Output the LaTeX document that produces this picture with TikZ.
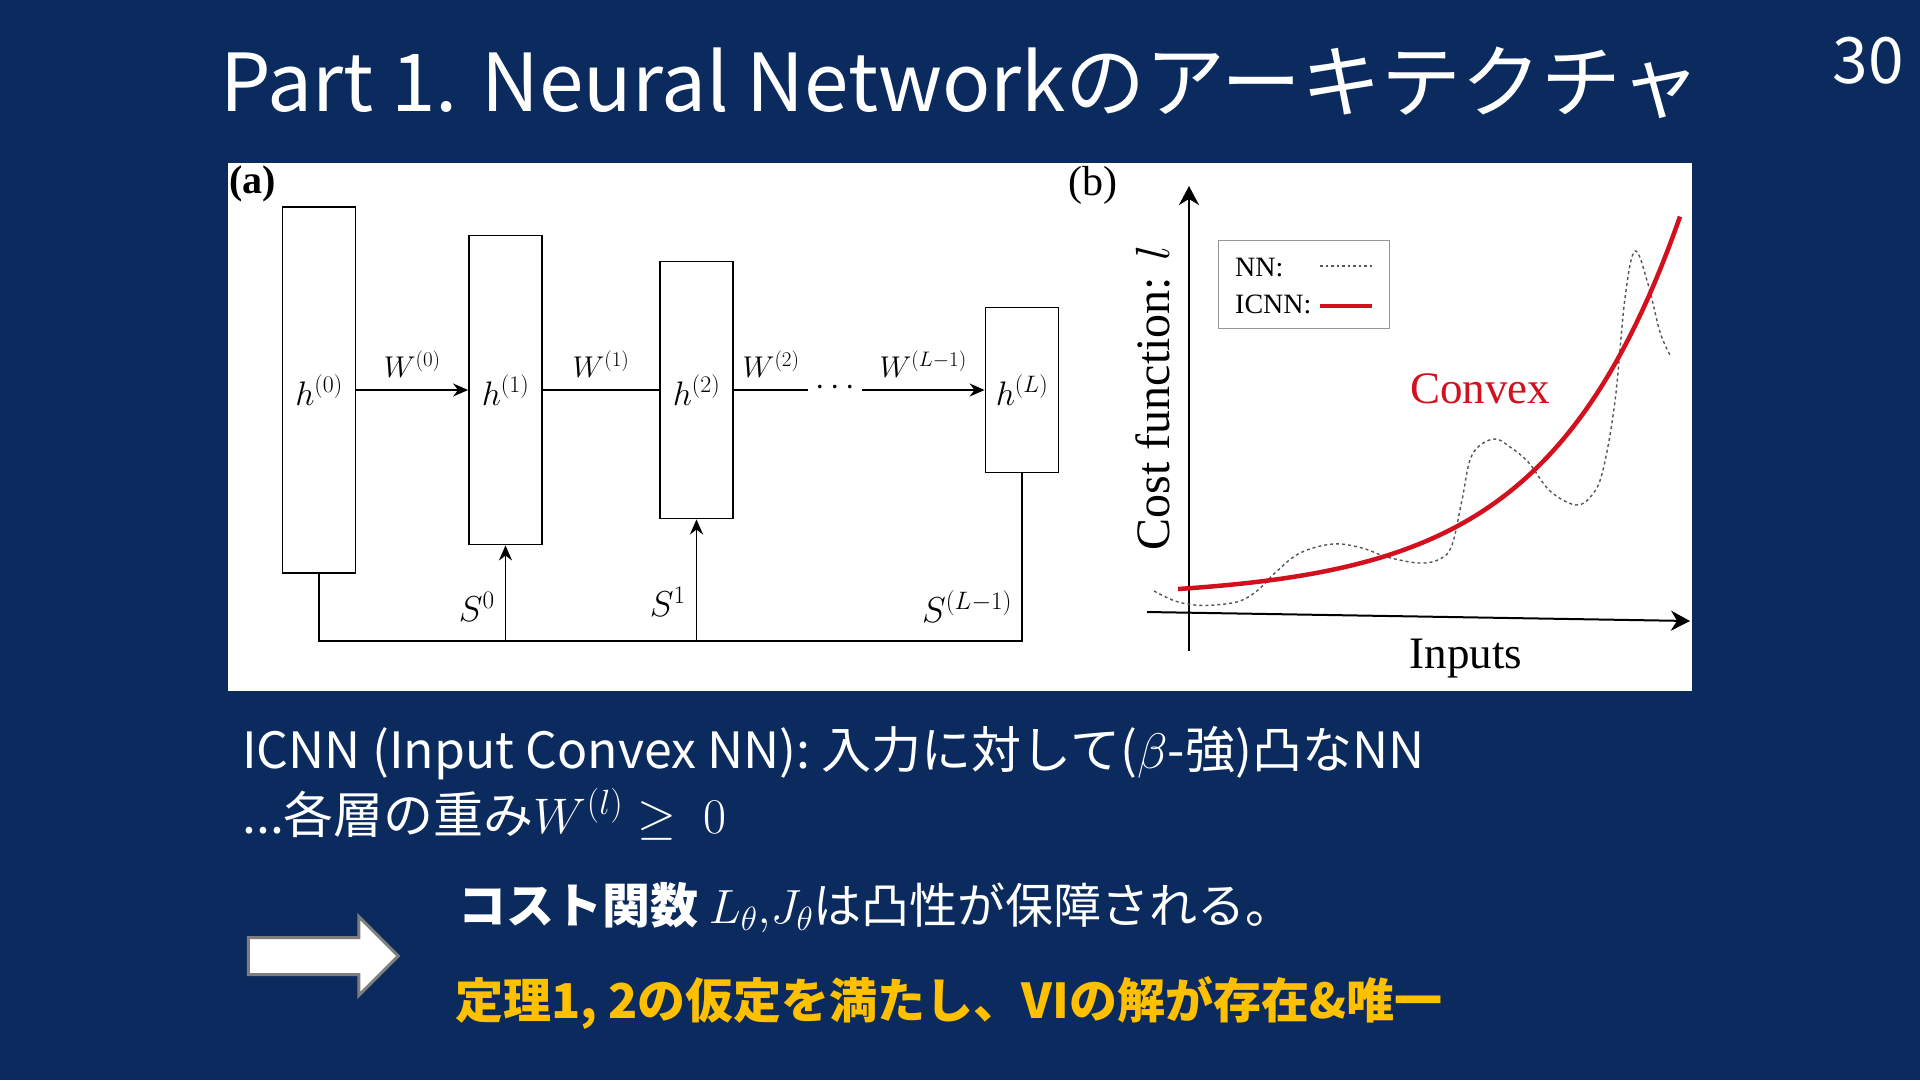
\RequirePackage{fix-cm}
\documentclass[tikz,border=0pt]{standalone}
\usepackage[no-math]{fontspec}
\setmainfont{Noto Sans CJK JP}
\newfontfamily\figserif{Liberation Serif}
\usetikzlibrary{arrows.meta,calc,positioning,shapes.arrows}
\definecolor{slidebg}{RGB}{11,42,94}
\definecolor{goldtext}{RGB}{255,192,0}
\definecolor{convexred}{RGB}{210,16,30}
\definecolor{nngray}{RGB}{85,85,85}
\definecolor{legendgray}{RGB}{150,150,150}
\definecolor{arrowgray}{RGB}{125,125,125}

\begin{document}
\begin{tikzpicture}[x=1pt, y=-1pt,
    >={Stealth[length=15pt, width=13pt]},
    layer/.style={draw=black, line width=1.8pt, fill=white, minimum width=73pt, inner sep=0pt, font=\fontsize{34}{40}\selectfont},
    wire/.style={black, line width=1.8pt},
    wlabel/.style={font=\fontsize{30}{36}\selectfont, inner sep=2pt},
    slabel/.style={font=\fontsize{36}{42}\selectfont, inner sep=2pt},
    axis/.style={black, line width=2pt, -{Stealth[length=19pt, width=20pt, inset=6pt]}},
    figtext/.style={font=\figserif\fontsize{45}{54}\selectfont, inner sep=0pt},
    slidetext/.style={text=white, anchor=base west, inner sep=0pt, font=\fontsize{48}{58}\selectfont}
]

% Background
\fill[slidebg] (0,0) rectangle (1920,1080);
\useasboundingbox (0,0) rectangle (1920,1080);

% Title & page number
\node[text=white, anchor=base west, inner sep=0pt, font=\fontsize{80}{96}\selectfont] (title) at (220,111) {Part 1. Neural Networkのアーキテクチャ};
\node[text=white, anchor=base east, inner sep=0pt, font=\fontsize{64}{76}\selectfont] (pageno) at (1904,83) {30};

% Figure panel
\node[fill=white, minimum width=1464pt, minimum height=528pt, inner sep=0pt, anchor=north west] (panel) at (228,163) {};

% (a) Network layers
\node[anchor=north west, font=\figserif\bfseries\fontsize{40}{48}\selectfont, inner sep=0pt] (tagA) at (229,166) {(a)};

\node[layer, minimum height=366pt] (h0) at (319,390) {$h^{(0)}$};
\node[layer, minimum height=309pt] (h1) at (505.5,390) {$h^{(1)}$};
\node[layer, minimum height=257pt] (h2) at (696.5,390) {$h^{(2)}$};
\node[layer, minimum height=165pt] (hL) at (1022,390) {$h^{(L)}$};
\node[minimum width=53pt, inner sep=0pt, font=\fontsize{34}{40}\selectfont] (dots) at (835,388) {$\cdots$};

% Weights
\draw[wire, ->] (h0) -- node[wlabel, above=10pt] {$W^{(0)}$} (h1);
\draw[wire] (h1) -- node[wlabel, above=10pt] {$W^{(1)}$} (h2);
\draw[wire] (h2.east) -- node[wlabel, above=10pt] {$W^{(2)}$} (dots.west |- h2.east);
\draw[wire, ->] (dots.east |- hL.west) -- node[wlabel, above=10pt] {$W^{(L-1)}$} (hL.west);

% Skip connections
\coordinate (bus) at (0,641);
\draw[wire] (h0.south) -- (h0.south |- bus) -- (hL.south |- bus) -- node[slabel, pos=0.11, anchor=base east, xshift=-7pt] {$S^{(L-1)}$} (hL.south);
\draw[wire, ->] (h1.south |- bus) -- node[slabel, pos=0.2, anchor=base east, xshift=-8pt] {$S^{0}$} (h1.south);
\draw[wire, ->] (h2.south |- bus) -- node[slabel, pos=0.2, anchor=base east, xshift=-8pt] {$S^{1}$} (h2.south);

% (b) Cost landscape
\node[anchor=north west, font=\figserif\fontsize{42}{50}\selectfont, inner sep=0pt] (tagB) at (1068,166) {(b)};

\coordinate (yorig) at (1189,651);
\coordinate (ytop) at (1189,186);
\coordinate (xorig) at (1147,612);
\coordinate (xend) at (1690,621);
\draw[axis] (yorig) -- (ytop);
\draw[axis] (xorig) -- (xend);

\node[figtext, rotate=90, font=\figserif\fontsize{48}{56}\selectfont] (ylabel) at (1153,398) {Cost function: $l$};
\node[figtext, anchor=base] (inputs) at (1466,668) {Inputs};
\node[figtext, anchor=base, text=convexred] (convex) at (1480,403) {Convex};

% Legend
\node[draw=legendgray, line width=1pt, fill=white, minimum width=171pt, minimum height=88pt, inner sep=0pt, anchor=north west] (legend) at (1218,240) {};
\node[figtext, anchor=base west, font=\figserif\fontsize{28}{34}\selectfont] (legNN) at (1235,276) {NN:};
\node[figtext, anchor=base west, font=\figserif\fontsize{28}{34}\selectfont] (legICNN) at (1235,313) {ICNN:};
\draw[nngray, line width=1.4pt, dash pattern=on 2.5pt off 3pt] (1320,266) -- (1372,266);
\draw[convexred, line width=4pt] (1320,306) -- (1372,306);

% NN (non-convex) and ICNN (convex) curves
\draw[nngray, line width=1.4pt, dash pattern=on 3pt off 3pt] plot[smooth, tension=0.6] coordinates {
    (1154,591) (1175,601) (1195,605) (1215,605) (1240,601) (1258,590) (1276,572) (1300,553)
    (1333,544) (1362,548) (1387,557) (1419,563) (1440,559) (1452,545) (1462,500) (1472,455)
    (1493,439) (1510,447) (1529,463) (1550,491) (1576,505) (1592,495) (1603,470) (1615,401)
    (1625,298) (1635,251) (1648,284) (1660,332) (1670,355)};
\draw[convexred, line width=4.5pt] plot[domain=0:502, samples=80] ({1178+\x},{589-8.8*(exp(0.0075*\x)-1)});

% Slide text
\node[slidetext, font=\fontsize{50}{60}\selectfont] (icnn) at (242,768) {ICNN (Input Convex NN): 入力に対して($\beta$-強)凸なNN};
\node[slidetext, font=\fontsize{50}{60}\selectfont] (weights) at (242,833) {...各層の重み$W^{(l)}\geq\;0$};

\node[single arrow, draw=arrowgray, line width=3pt, fill=white, inner sep=17pt, minimum height=150pt, single arrow head extend=21pt] (implies) at (314,956) {};

\node[slidetext] (costline) at (458,923) {\textbf{コスト関数} $L_\theta{,}J_\theta$は凸性が保障される。};
\node[slidetext, text=goldtext, font=\bfseries\fontsize{48}{58}\selectfont] (theorem) at (455,1018) {定理1, 2の仮定を満たし、VIの解が存在\&唯一};

\end{tikzpicture}
\end{document}
